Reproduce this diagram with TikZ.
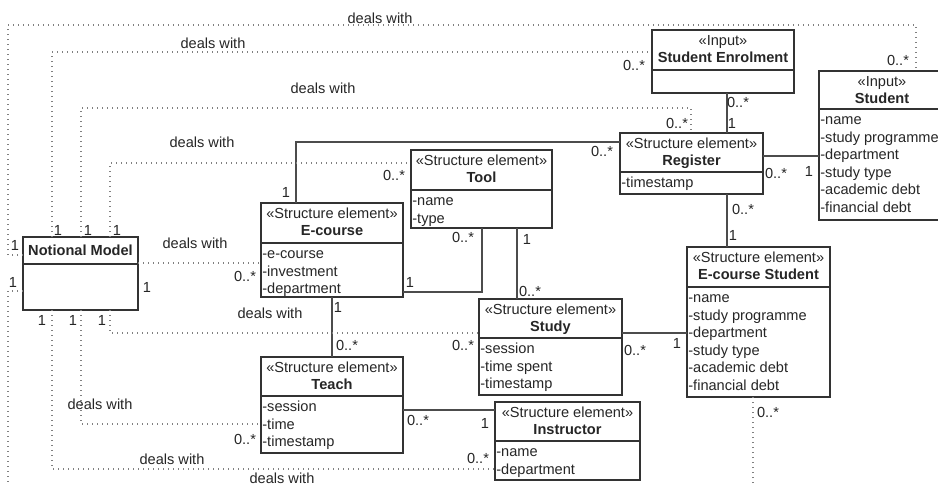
\documentclass[tikz,border=0pt]{standalone}
\usepackage{fontspec}
\setmainfont{Liberation Sans}
\usetikzlibrary{calc}

\tikzset{
  classbox/.style={draw=black!80, line width=0.9pt, fill=white, inner sep=0pt, outer sep=0pt, anchor=north west},
  classline/.style={draw=black!80, line width=0.9pt},
  stereo/.style={font=\fontsize{8.3}{10}\selectfont, text=black!85, inner sep=0pt, anchor=base},
  classname/.style={stereo, font=\fontsize{8.3}{10}\selectfont\bfseries},
  attrs/.style={font=\fontsize{8.3}{10}\selectfont, text=black!85, inner sep=0pt, align=left, anchor=north west},
  mult/.style={font=\fontsize{8.3}{10}\selectfont, text=black!85, inner sep=0pt},
  assoc/.style={draw=black!70, line width=0.7pt},
  dealswith/.style={draw=black!50, line width=0.7pt, dash pattern=on 0.25mm off 0.75mm},
}

\newcommand{\umlclass}[9]{%
  \node[classbox, minimum width=#4*0.2mm, minimum height=#5*0.2mm] (#1) at (#2,#3) {};
  \draw[classline] ($(#1.north west)+(0,#6)$) -- ($(#1.north east)+(0,#6)$);
  \node[stereo] at ($(#1.north)+(0,15)$) {#7};
  \node[classname] at ($(#1.north)+(0,32)$) {#8};
  \node[attrs] at ($(#1.north west)+(1,#6+3)$) {\strut#9};
}

\begin{document}
\begin{tikzpicture}[x=0.2mm, y=-0.2mm]
\useasboundingbox (0,0) rectangle (938,484);
\clip (0,0) rectangle (938,484);
\fill[white] (0,0) rectangle (938,484);

\umlclass{enrol}{652}{30}{142}{63}{40}{«Input»}{Student Enrolment}{}
\umlclass{student}{819}{71}{126}{149}{38}{«Input»}{Student}{-name\\-study programme\\-department\\-study type\\-academic debt\\-financial debt}
\umlclass{reg}{620}{133}{143}{61}{39}{«Structure element»}{Register}{-timestamp}
\umlclass{ecstud}{687}{247}{143}{150}{40}{«Structure element»}{E-course Student}{-name\\-study programme\\-department\\-study type\\-academic debt\\-financial debt}
\umlclass{study}{479}{299}{143}{96}{39}{«Structure element»}{Study}{-session\\-time spent\\-timestamp}
\umlclass{tool}{411}{150}{141}{78}{40}{«Structure element»}{Tool}{-name\\-type}
\umlclass{ecourse}{261}{203}{142}{94}{40}{«Structure element»}{E-course}{-e-course\\-investment\\-department}
\umlclass{teach}{261}{357}{142}{96}{39}{«Structure element»}{Teach}{-session\\-time\\-timestamp}
\umlclass{instr}{495}{402}{145}{78}{39}{«Structure element»}{Instructor}{-name\\-department}

\node[classbox, minimum width=115*0.2mm, minimum height=73*0.2mm] (notional) at (23,237) {};
\draw[classline] ($(notional.north west)+(0,27)$) -- ($(notional.north east)+(0,27)$);
\node[classname] at ($(notional.north)+(0,18)$) {Notional Model};

\draw[assoc] (enrol.south -| 727,0) -- (reg.north -| 727,0);
\draw[assoc] (reg.east |- 0,156) -- (student.west |- 0,156);
\draw[assoc] (reg.south -| 727,0) -- (ecstud.north -| 727,0);
\draw[assoc] (reg.west |- 0,142) -| (ecourse.north -| 296,0);
\draw[assoc] (tool.south -| 517,0) -- (study.north -| 517,0);
\draw[assoc] (tool.south -| 482,0) |- (ecourse.east |- 0,292);
\draw[assoc] (ecourse.south -| 332,0) -- (teach.north -| 332,0);
\draw[assoc] (study.east |- 0,333) -- (ecstud.west |- 0,333);
\draw[assoc] (teach.east |- 0,410) -- (instr.west |- 0,410);

\draw[dealswith] (notional.west |- 0,255) -| (8,25) -| (student.north -| 916,0);
\draw[dealswith] (notional.north -| 52,0) |- (enrol.west |- 0,52);
\draw[dealswith] (notional.north -| 81,0) |- (691,108) -- (reg.north -| 691,0);
\draw[dealswith] (notional.north -| 110,0) |- (tool.west |- 0,163);
\draw[dealswith] (notional.east |- 0,263) -- (ecourse.west |- 0,263);
\draw[dealswith] (notional.south -| 110,0) |- (study.west |- 0,333);
\draw[dealswith] (notional.south -| 81,0) |- (teach.west |- 0,424);
\draw[dealswith] (notional.south -| 52,0) |- (instr.west |- 0,469);
\draw[dealswith] (notional.west |- 0,291) -| (8,492) -| (ecstud.south -| 753,0);

\node[mult] at (380,18) {deals with};
\node[mult] at (213,43) {deals with};
\node[mult] at (323,88) {deals with};
\node[mult] at (202,142) {deals with};
\node[mult] at (195,243) {deals with};
\node[mult] at (270,313) {deals with};
\node[mult] at (100,404) {deals with};
\node[mult] at (172,459) {deals with};
\node[mult] at (282,478) {deals with};

\node[mult] at (738,102) {0..*};
\node[mult] at (732,123) {1};
\node[mult] at (776,173) {0..*};
\node[mult] at (809,171) {1};
\node[mult] at (743,209) {0..*};
\node[mult] at (733,235) {1};
\node[mult] at (602,151) {0..*};
\node[mult] at (286,192) {1};
\node[mult] at (527,239) {1};
\node[mult] at (530,291) {0..*};
\node[mult] at (463,237) {0..*};
\node[mult] at (410,282) {1};
\node[mult] at (338,307) {1};
\node[mult] at (347,345) {0..*};
\node[mult] at (635,350) {0..*};
\node[mult] at (677,343) {1};
\node[mult] at (418,420) {0..*};
\node[mult] at (485,423) {1};

\node[mult] at (898,60) {0..*};
\node[mult] at (634,65) {0..*};
\node[mult] at (677,123) {0..*};
\node[mult] at (394,175) {0..*};
\node[mult] at (245,276) {0..*};
\node[mult] at (463,345) {0..*};
\node[mult] at (245,439) {0..*};
\node[mult] at (478,458) {0..*};
\node[mult] at (768,412) {0..*};

\node[mult] at (58,230) {1};
\node[mult] at (88,230) {1};
\node[mult] at (117,230) {1};
\node[mult] at (42,320) {1};
\node[mult] at (73,320) {1};
\node[mult] at (102,320) {1};
\node[mult] at (15,245) {1};
\node[mult] at (13,282) {1};
\node[mult] at (147,287) {1};
\end{tikzpicture}
\end{document}
